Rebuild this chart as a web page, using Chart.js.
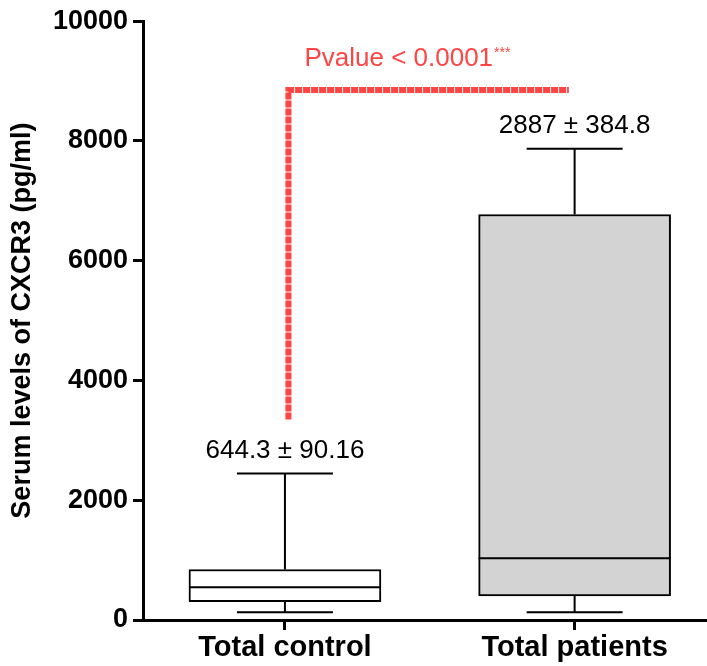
<!DOCTYPE html>
<html>
<head>
<meta charset="utf-8">
<script src="https://cdn.jsdelivr.net/npm/chart.js@4"></script>
<style>
  html, body { margin: 0; padding: 0; background: #fff; }
  #wrap { width: 707px; height: 666px; }
</style>
</head>
<body>
<div id="wrap"><canvas id="box"></canvas></div>
<script>
// groups and box plot values (pg/ml)
var groups = ['Total control', 'Total patients'];
var minVals = [128, 128];
var q1Vals = [305, 404];
var medianVals = [549, 1032];
var q3Vals = [843, 6772];
var maxVals = [2446, 7870];
var meanLabels = ['644.3 \u00b1 90.16', '2887 \u00b1 384.8'];
var yTicks = [0, 2000, 4000, 6000, 8000, 10000];

// significance bracket (x in group index units, y in pg/ml)
var bracketX = [0.012, 0.98];
var bracketY = [3350, 8850];
var pText = 'Pvalue < 0.0001';
var pStars = '***';

var red = '#ff4444';
var fam = '"Liberation Sans", Arial, sans-serif';

var boxPlugin = {
    id: 'boxparts',
    afterDatasetsDraw: function (chart) {
        var ctx = chart.ctx;
        var x = chart.scales.x, y = chart.scales.y;
        var meta = chart.getDatasetMeta(0);
        ctx.save();
        ctx.strokeStyle = '#000';
        ctx.lineWidth = 2;
        for (var i = 0; i < groups.length; i++) {
            var bar = meta.data[i];
            var cx = x.getPixelForValue(i);
            var half = bar.width / 2;
            var cap = bar.width / 4;
            ctx.beginPath();
            // median
            ctx.moveTo(cx - half, y.getPixelForValue(medianVals[i]));
            ctx.lineTo(cx + half, y.getPixelForValue(medianVals[i]));
            // whiskers
            ctx.moveTo(cx, y.getPixelForValue(q3Vals[i]));
            ctx.lineTo(cx, y.getPixelForValue(maxVals[i]));
            ctx.moveTo(cx, y.getPixelForValue(q1Vals[i]));
            ctx.lineTo(cx, y.getPixelForValue(minVals[i]));
            // caps
            ctx.moveTo(cx - cap, y.getPixelForValue(maxVals[i]));
            ctx.lineTo(cx + cap, y.getPixelForValue(maxVals[i]));
            ctx.moveTo(cx - cap, y.getPixelForValue(minVals[i]));
            ctx.lineTo(cx + cap, y.getPixelForValue(minVals[i]));
            ctx.stroke();

            ctx.fillStyle = '#000';
            ctx.font = '26px ' + fam;
            ctx.textAlign = 'center';
            ctx.textBaseline = 'alphabetic';
            ctx.fillText(meanLabels[i], cx, y.getPixelForValue(maxVals[i]) - 16);
        }

        // bracket
        var bx0 = x.getPixelForValue(bracketX[0]);
        var bx1 = x.getPixelForValue(bracketX[1]);
        var by0 = y.getPixelForValue(bracketY[0]);
        var by1 = y.getPixelForValue(bracketY[1]);
        ctx.strokeStyle = red;
        ctx.lineWidth = 6;
        ctx.setLineDash([7, 1]);
        ctx.beginPath();
        ctx.moveTo(bx0, by0);
        ctx.lineTo(bx0, by1);
        ctx.lineTo(bx1, by1);
        ctx.stroke();
        ctx.setLineDash([]);

        ctx.fillStyle = red;
        ctx.textAlign = 'left';
        ctx.font = '26px ' + fam;
        var tx = bx0 + 16, ty = by1 - 24;
        ctx.fillText(pText, tx, ty);
        var w = ctx.measureText(pText).width;
        ctx.font = '14px ' + fam;
        ctx.fillText(pStars, tx + w + 1, ty - 9);
        ctx.restore();
    }
};

var ctx = document.getElementById('box').getContext('2d');
var chart = new Chart(ctx, {
    type: 'bar',
    data: {
        datasets: [{
            data: groups.map(function (g, i) { return { x: i, y: [q1Vals[i], q3Vals[i]] }; }),
            backgroundColor: ['#ffffff', '#d3d3d3'],
            borderColor: '#000',
            borderWidth: 2,
            borderSkipped: false,
            barThickness: 192
        }]
    },
    options: {
        responsive: true,
        maintainAspectRatio: false,
        animation: false,
        layout: { padding: { top: 19, right: 0, left: 0, bottom: 0 } },
        plugins: { legend: { display: false }, tooltip: { enabled: false } },
        scales: {
            x: {
                type: 'linear',
                offset: false,
                min: -0.49,
                max: 1.457,
                afterBuildTicks: function (s) { s.ticks = groups.map(function (g, i) { return { value: i }; }); },
                afterFit: function (s) { s.height = 46; },
                grid: { offset: false, drawOnChartArea: false, drawTicks: true, tickLength: 10, tickWidth: 3, tickColor: '#000' },
                border: { color: '#000', width: 3, dash: [2, 1] },
                ticks: {
                    color: '#000',
                    padding: 1,
                    maxRotation: 0,
                    font: { family: fam, size: 29, weight: 'bold' },
                    callback: function (v) { return groups[v]; }
                }
            },
            y: {
                min: 0,
                max: 10000,
                afterBuildTicks: function (s) { s.ticks = yTicks.map(function (v) { return { value: v }; }); },
                afterFit: function (s) { s.width = 143; },
                grid: { drawOnChartArea: false, drawTicks: true, tickLength: 10, tickWidth: 3, tickColor: '#000' },
                border: { color: '#000', width: 3, dash: [2, 1] },
                title: {
                    display: true,
                    text: 'Serum levels of CXCR3 (pg/ml)',
                    color: '#000',
                    padding: { top: 6, bottom: 0 },
                    font: { family: fam, size: 27, weight: 'bold' }
                },
                ticks: {
                    color: '#000',
                    padding: 5,
                    font: { family: fam, size: 27, weight: 'bold' },
                    callback: function (v) { return String(v); }
                }
            }
        }
    },
    plugins: [boxPlugin]
});
</script>
</body>
</html>
